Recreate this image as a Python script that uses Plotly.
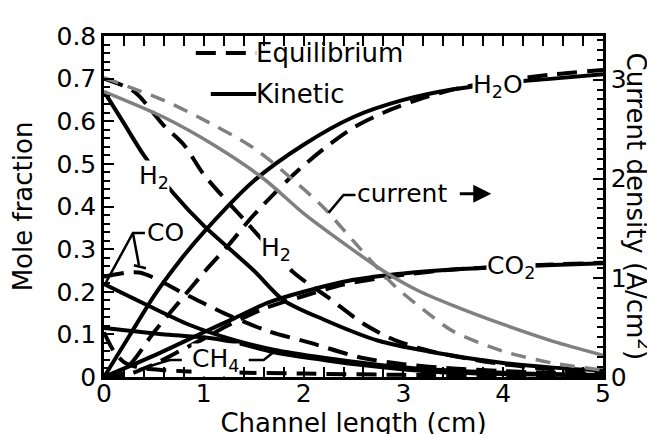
import plotly.graph_objects as go

# ---- values (x = channel length, cm) ----
# mole fractions, kinetic model (solid)
h2_kin_x = [0, 0.2, 0.4, 0.7, 1.0, 1.5, 1.8, 2.2, 2.75, 3.25, 4.0, 4.5, 5.0]
h2_kin_y = [0.67, 0.595, 0.52, 0.43, 0.355, 0.25, 0.18, 0.135, 0.085, 0.06, 0.033, 0.022, 0.015]
h2o_kin_x = [0, 0.25, 0.5, 0.75, 1.0, 1.5, 2.0, 2.5, 3.0, 3.5, 4.0, 4.5, 5.0]
h2o_kin_y = [0, 0.095, 0.19, 0.27, 0.34, 0.46, 0.545, 0.61, 0.65, 0.675, 0.69, 0.70, 0.71]
co2_kin_x = [0, 0.5, 1.0, 1.3, 1.65, 2.0, 2.5, 3.0, 3.5, 4.0, 4.5, 5.0]
co2_kin_y = [0, 0.05, 0.105, 0.137, 0.175, 0.2, 0.228, 0.243, 0.252, 0.258, 0.263, 0.267]
co_kin_x = [0, 0.42, 0.86, 1.3, 1.7, 2.2, 2.7, 3.25, 4.0, 5.0]
co_kin_y = [0.218, 0.17, 0.122, 0.087, 0.064, 0.045, 0.03, 0.018, 0.01, 0.005]
ch4_kin_x = [0, 0.65, 1.0, 1.3, 1.7, 2.2, 2.7, 3.25, 4.0, 5.0]
ch4_kin_y = [0.115, 0.099, 0.093, 0.082, 0.058, 0.04, 0.025, 0.013, 0.007, 0.004]

# mole fractions, equilibrium model (dashed)
h2_eq_x = [0, 0.3, 0.6, 0.8, 1.0, 1.4, 1.9, 2.25, 2.6, 2.9, 3.2, 3.6, 4.0, 4.5, 5.0]
h2_eq_y = [0.70, 0.67, 0.59, 0.545, 0.475, 0.37, 0.245, 0.186, 0.125, 0.088, 0.065, 0.045, 0.03, 0.018, 0.01]
h2o_eq_x = [0, 0.15, 0.3, 0.5, 0.75, 1.0, 1.25, 1.5, 1.9, 2.2, 2.5, 2.8, 3.2, 3.6, 4.0, 4.5, 5.0]
h2o_eq_y = [0, 0.005, 0.04, 0.105, 0.175, 0.245, 0.31, 0.38, 0.475, 0.535, 0.585, 0.62, 0.655, 0.68, 0.695, 0.71, 0.72]
co2_eq_x = [0, 0.2, 0.5, 0.75, 1.0, 1.25, 1.6, 2.0, 2.4, 3.0, 3.5, 4.0, 4.5, 5.0]
co2_eq_y = [0, 0.003, 0.03, 0.06, 0.09, 0.122, 0.16, 0.19, 0.217, 0.24, 0.252, 0.259, 0.264, 0.268]
co_eq_x = [0, 0.35, 0.85, 1.2, 1.64, 2.07, 2.58, 3.0, 3.5, 4.0, 5.0]
co_eq_y = [0.235, 0.245, 0.19, 0.15, 0.108, 0.08, 0.045, 0.03, 0.02, 0.014, 0.006]
ch4_eq_x = [0, 0.1, 0.2, 0.35, 0.6, 1.0, 2.0, 3.0, 4.0, 5.0]
ch4_eq_y = [0.105, 0.06, 0.035, 0.022, 0.016, 0.012, 0.008, 0.005, 0.004, 0.003]

# current density (A/cm2), right axis
cur_kin_x = [0, 0.6, 1.1, 1.6, 2.0, 2.4, 2.8, 3.15, 3.5, 4.0, 4.5, 5.0]
cur_kin_y = [2.88, 2.62, 2.34, 2.0, 1.65, 1.35, 1.07, 0.87, 0.72, 0.53, 0.36, 0.22]
cur_eq_x = [0, 0.6, 0.95, 1.5, 1.95, 2.2, 2.5, 2.9, 3.2, 3.5, 4.0, 4.5, 5.0]
cur_eq_y = [3.02, 2.79, 2.62, 2.31, 1.94, 1.71, 1.37, 0.93, 0.68, 0.46, 0.26, 0.14, 0.07]

FONT = "DejaVu Sans"
BLACK = "black"
GRAY = "#808080"
EQ_DASH = "20px,10px"
CUR_DASH = "15px,10px"

fig = go.Figure()


def add_curve(x, y, dash=None, color=BLACK, width=4, axis="y"):
    fig.add_trace(go.Scatter(
        x=x, y=y, mode="lines", yaxis=axis, showlegend=False,
        line=dict(color=color, width=width, dash=dash or "solid",
                  shape="spline", smoothing=0.8),
    ))


# gray current curves first so black lines sit on top
add_curve(cur_eq_x, cur_eq_y, dash=CUR_DASH, color=GRAY, width=3.5, axis="y2")
add_curve(cur_kin_x, cur_kin_y, color=GRAY, width=3.5, axis="y2")

for xs, ys in [(h2_eq_x, h2_eq_y), (h2o_eq_x, h2o_eq_y), (co2_eq_x, co2_eq_y),
               (co_eq_x, co_eq_y), (ch4_eq_x, ch4_eq_y)]:
    add_curve(xs, ys, dash=EQ_DASH)
for xs, ys in [(h2_kin_x, h2_kin_y), (h2o_kin_x, h2o_kin_y), (co2_kin_x, co2_kin_y),
               (co_kin_x, co_kin_y), (ch4_kin_x, ch4_kin_y)]:
    add_curve(xs, ys)


def label(text, x, y, bg="white", **kw):
    fig.add_annotation(x=x, y=y, text=text, showarrow=False, bgcolor=bg,
                       font=dict(family=FONT, size=25, color="black"), borderpad=0, **kw)


label("H<sub>2</sub>", 0.5, 0.47)
label("H<sub>2</sub>", 1.72, 0.30)
label("H<sub>2</sub>O", 3.95, 0.683)
label("CO<sub>2</sub>", 4.08, 0.258)
label("CO", 0.62, 0.338)
label("CH<sub>4</sub>", 1.12, 0.04)
label("current", 2.52, 0.43, bg="rgba(0,0,0,0)", xanchor="left")

# leader lines for CO, CH4 and current labels
leaders = [
    ([0.41, 0.29, 0.02], [0.338, 0.338, 0.222]),
    ([0.29, 0.35], [0.338, 0.262]),
    ([0.30, 0.42], [0.262, 0.255]),
    ([0.78, 0.66, 0.35], [0.04, 0.04, 0.018]),
    ([1.45, 1.6, 1.72], [0.04, 0.04, 0.062]),
    ([2.52, 2.4, 2.25], [0.427, 0.427, 0.385]),
]
for lx, ly in leaders:
    path = "M " + " L ".join(f"{a},{b}" for a, b in zip(lx, ly))
    fig.add_shape(type="path", path=path, xref="x", yref="y",
                  line=dict(color="black", width=2.5))

# arrow after "current"
fig.add_annotation(x=3.88, y=0.43, ax=3.55, ay=0.43, axref="x", ayref="y",
                   showarrow=True, arrowhead=2, arrowsize=1.2, arrowwidth=3,
                   arrowcolor="black", text="")

# legend drawn in paper coordinates
fig.add_shape(type="line", xref="paper", yref="paper", x0=0.184, x1=0.305,
              y0=0.95, y1=0.95, line=dict(color="black", width=4, dash="20px,10px"))
fig.add_shape(type="line", xref="paper", yref="paper", x0=0.214, x1=0.305,
              y0=0.83, y1=0.83, line=dict(color="black", width=4))
for txt, yy in [("Equilibrium", 0.95), ("Kinetic", 0.83)]:
    fig.add_annotation(xref="paper", yref="paper", x=0.30, y=yy, text=txt,
                       showarrow=False, xanchor="left", yanchor="middle",
                       font=dict(family=FONT, size=26, color="black"))

# right axis title, reading top-to-bottom
fig.add_annotation(xref="paper", yref="paper", x=1, y=0.5, xshift=54,
                   xanchor="right", yanchor="middle",
                   text="Current density (A/cm<sup>2</sup>)", textangle=90,
                   showarrow=False, font=dict(family=FONT, size=26, color="black"))

axis_common = dict(
    showline=True, linecolor="black", linewidth=2.5, ticks="inside",
    tickcolor="black", tickwidth=2, ticklen=10, showgrid=False, zeroline=False,
    tickfont=dict(family=FONT, size=25, color="black"),
)

fig.update_layout(
    width=655, height=434,
    paper_bgcolor="white", plot_bgcolor="white",
    margin=dict(l=96, r=60, t=28, b=65),
    font=dict(family=FONT, color="black"),
    showlegend=False,
    xaxis=dict(
        **axis_common, range=[0, 5], dtick=1, mirror="allticks",
        ticklabelstandoff=-8,
        minor=dict(dtick=0.2, ticks="inside", ticklen=6, tickcolor="black", tickwidth=2),
        title=dict(text="Channel length (cm)", font=dict(family=FONT, size=26), standoff=0),
        automargin=False,
    ),
    yaxis=dict(
        **axis_common, range=[0, 0.8], dtick=0.1,
        minor=dict(dtick=0.02, ticks="inside", ticklen=6, tickcolor="black", tickwidth=2),
        title=dict(text="Mole fraction", font=dict(family=FONT, size=26), standoff=22),
        automargin=False,
    ),
    yaxis2=dict(
        **axis_common, range=[0, 3.44], dtick=1, overlaying="y", side="right",
        minor=dict(dtick=0.1, ticks="inside", ticklen=6, tickcolor="black", tickwidth=2),
        automargin=False,
    ),
)

fig.write_html("out.html")
